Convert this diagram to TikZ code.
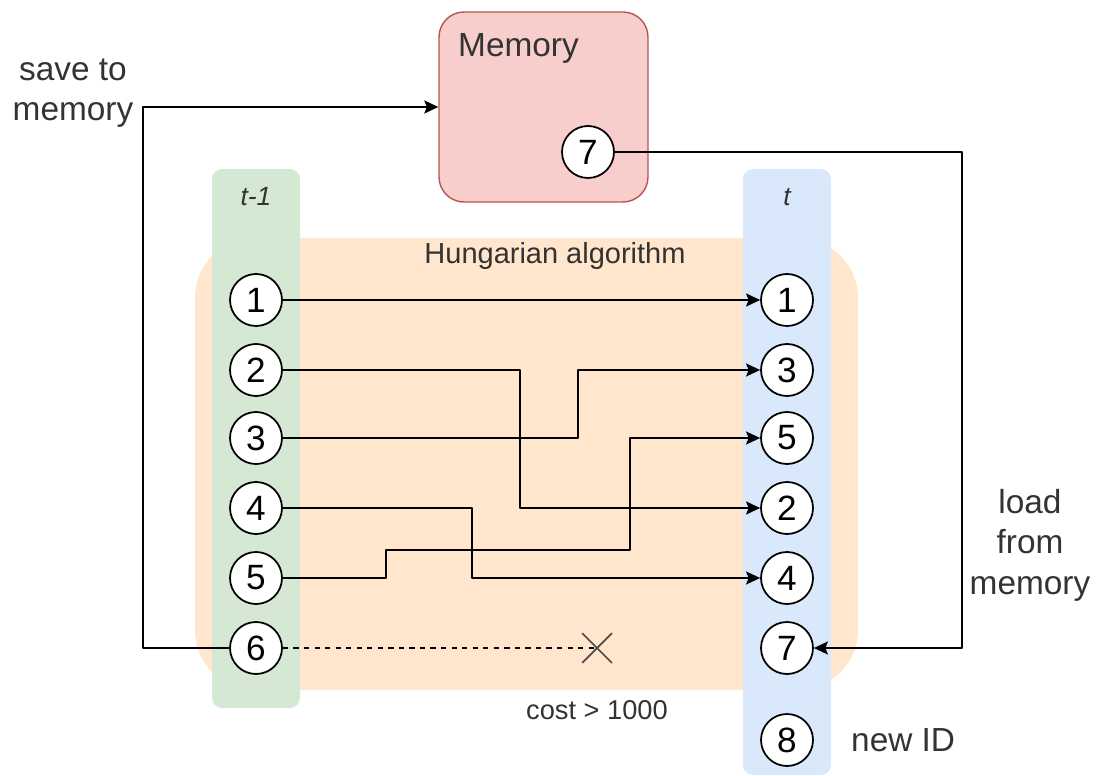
\documentclass[tikz,border=0pt]{standalone}
\usepackage{fontspec}
\setmainfont{Liberation Sans}
\usetikzlibrary{arrows.meta,shapes.misc}
\definecolor{memfill}{HTML}{F8CECC}
\definecolor{memline}{HTML}{B85450}
\definecolor{hunfill}{HTML}{FFE6CC}
\definecolor{prevfill}{HTML}{D5E8D4}
\definecolor{curfill}{HTML}{DAE8FC}
\definecolor{txt}{HTML}{333333}
\tikzset{
  idnode/.style={circle,draw,fill=white,line width=1pt,minimum size=1.04cm,inner sep=0pt,font=\fontsize{20}{20}\selectfont},
  link/.style={line width=1pt,-{Stealth[length=0.28cm,width=0.26cm,inset=0.05cm]}},
  lbl/.style={text=txt,font=\fontsize{19}{23}\selectfont,align=center},
}
\begin{document}
\begin{tikzpicture}[x=0.02cm,y=-0.02cm,line join=round]
\useasboundingbox (0,0) rectangle (1098,776);
% regions
\fill[hunfill,rounded corners=1.2cm] (195,238) rectangle (858,690);
\fill[prevfill,rounded corners=0.2cm] (212,169) rectangle (300,708);
\fill[curfill,rounded corners=0.2cm] (743,169) rectangle (831,775);
\node[draw=memline,fill=memfill,line width=0.8pt,rounded corners=0.5cm,minimum width=4.18cm,minimum height=3.8cm] (mem) at (543.5,107) {};
\node[lbl,anchor=west] at (452,48) {Memory};
\node[lbl,font=\fontsize{15}{18}\selectfont\itshape] at (256,197) {t-1};
\node[lbl,font=\fontsize{15}{18}\selectfont\itshape] at (787,197) {t};
\node[lbl,font=\fontsize{16.5}{20}\selectfont] at (555,256) {Hungarian algorithm};
% ids
\node[idnode] (m7) at (588,152) {7};
\foreach \i/\y in {1/300,2/370,3/438,4/508,5/578,6/648}{\node[idnode] (p\i) at (256,\y) {\i};}
\foreach \i/\y in {1/300,3/370,5/438,2/508,4/578,7/648,8/740}{\node[idnode] (c\i) at (787,\y) {\i};}
% matching
\draw[link] (p1) -- (c1);
\draw[link] (p2) -- (520,370) |- (c2);
\draw[link] (p3) -- (578,438) |- (c3);
\draw[link] (p4) -- (472,508) |- (c4);
\draw[link] (p5) -- (386,578) -- (386,550) -- (630,550) |- (c5);
\node[cross out,draw=black!70,line width=1pt,minimum size=0.56cm,inner sep=0pt] (cut) at (597,648) {};
\draw[line width=1pt,dashed] (p6) -- (cut.center);
% memory
\draw[link] (p6) -| (143,107) -- (mem.west);
\draw[link] (m7) -| (962,648) -- (c7);
\node[lbl] at (73,93) {save to\\memory};
\node[lbl] at (1030,545) {load\\from\\memory};
\node[lbl,anchor=west] at (845,740) {new ID};
\node[lbl,font=\fontsize{15.5}{18}\selectfont] at (597,710) {cost > 1000};
\end{tikzpicture}
\end{document}
